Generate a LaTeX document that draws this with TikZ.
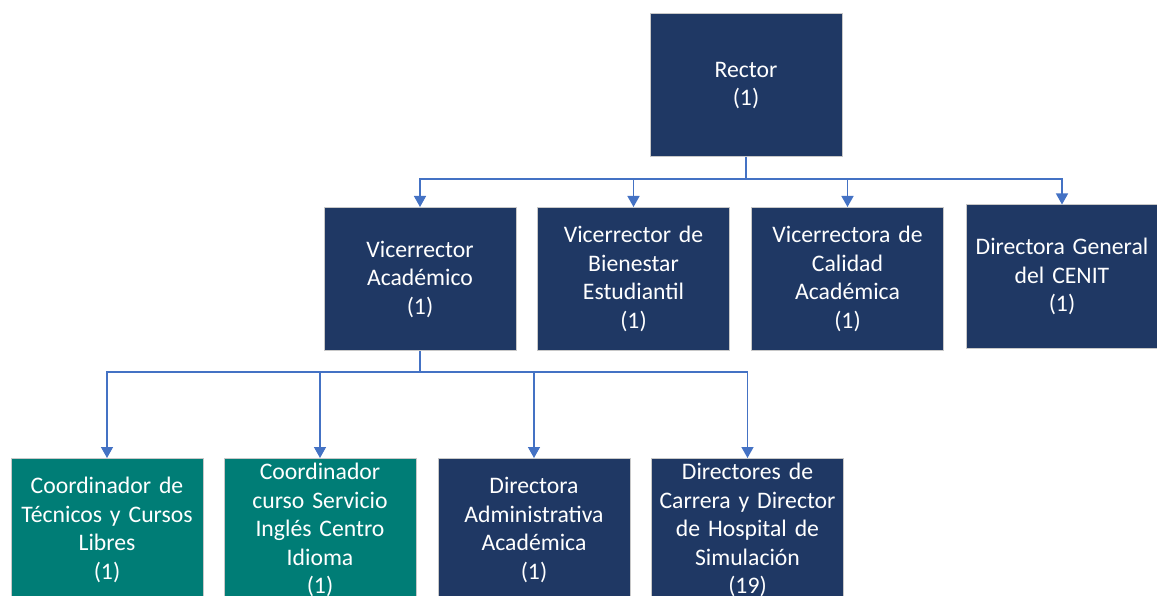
\documentclass[tikz,border=0pt]{standalone}
\usepackage{fontspec}
\setmainfont{Carlito}
\usetikzlibrary{arrows.meta}
\definecolor{navybox}{RGB}{31,56,100}
\definecolor{tealbox}{RGB}{0,125,118}
\definecolor{linkblue}{RGB}{68,114,196}
\definecolor{boxedge}{RGB}{200,200,200}

\begin{document}
\begin{tikzpicture}[x=1pt,y=1pt,yscale=-1,
  unit/.style={draw=boxedge, line width=1, fill=navybox, text=white,
    minimum width=192, minimum height=143, text width=188, align=center,
    inner sep=0, font=\fontsize{23.7}{28.5}\selectfont},
  tealunit/.style={unit, fill=tealbox},
  link/.style={draw=linkblue, line width=1.4},
  linkarrow/.style={link, -{Triangle[length=11,width=12]}}]
%set diagram left start at 0, and has height of 596
\useasboundingbox (0,0) rectangle (1157,596);

% Rector
\node [unit] (rector) at (746,85.5) {Rector\\(1)};

% Vicerrectores
\node [unit] (vacad) at (420,279) {Vicerrector\\Académico\\(1)};
\node [unit] (vbien) at (633.5,279) {Vicerrector de\\Bienestar\\Estudiantil\\(1)};
\node [unit] (vcal) at (847.5,279) {Vicerrectora de\\Calidad\\Académica\\(1)};
\node [unit] (dcenit) at (1062,276.5) {Directora General\\del CENIT\\(1)};

% Bottom row
\node [tealunit] (ctec) at (107,530) {Coordinador de\\Técnicos y Cursos\\Libres\\(1)};
\node [tealunit] (cingl) at (320,530) {Coordinador\\curso Servicio\\Inglés Centro\\Idioma\\(1)};
\node [unit] (dadm) at (534,530) {Directora\\Administrativa\\Académica\\(1)};
\node [unit] (dcarr) at (747.5,530) {Directores de\\Carrera y Director\\de Hospital de\\Simulación\\(19)};

% Connectors from Rector
\coordinate (bar1) at (746,179);
\draw [link] (rector.south) -- (bar1);
\foreach \n in {vacad,vbien,vcal,dcenit}
  \draw [linkarrow] (bar1) -| (\n.north);

% Connectors from Vicerrector Academico
\coordinate (bar2) at (420,372);
\draw [link] (vacad.south) -- (bar2);
\foreach \n in {ctec,cingl,dadm,dcarr}
  \draw [linkarrow] (bar2) -| (\n.north);

\end{tikzpicture}
\end{document}
